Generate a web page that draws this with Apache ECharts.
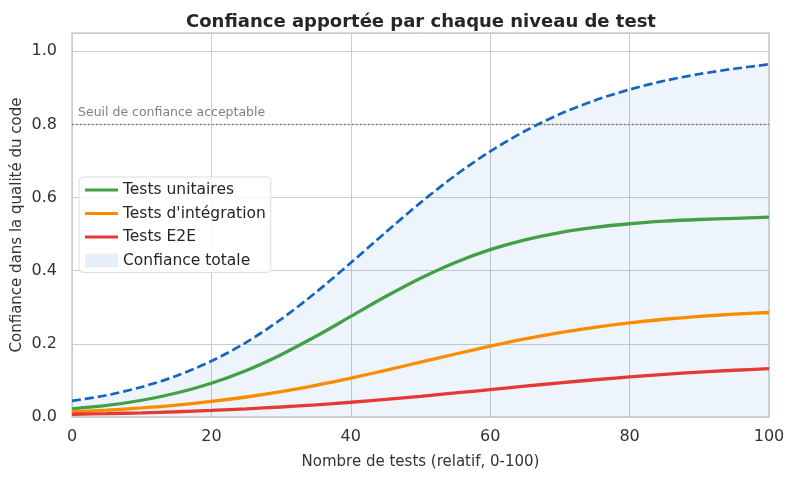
<!DOCTYPE html>
<html><head><meta charset="utf-8">
<script src="https://cdn.jsdelivr.net/npm/echarts@6/dist/echarts.min.js"></script>
<style>html,body{margin:0;padding:0;background:#fff}#c{width:794px;height:479px}</style>
</head><body><div id="c"></div>
<script>
const xs = [0,5,10,15,20,25,30,35,40,45,50,55,60,65,70,75,80,85,90,95,100];
const unitaires = [0.0225,0.0315,0.0458,0.0656,0.0924,0.1273,0.1705,0.2207,0.275,0.3293,0.3795,0.4227,0.4576,0.4844,0.5043,0.5185,0.5284,0.5354,0.5401,0.5433,0.5465];
const integration = [0.0142,0.0189,0.0250,0.0327,0.0426,0.0547,0.0694,0.0867,0.1063,0.1277,0.15,0.1723,0.1937,0.2133,0.2306,0.2453,0.2574,0.2673,0.2751,0.2811,0.2858];
const e2e = [0.0075,0.0092,0.0114,0.0143,0.0179,0.0222,0.0274,0.0334,0.0403,0.0481,0.0566,0.0657,0.075,0.0843,0.0934,0.1019,0.1097,0.1166,0.1226,0.1278,0.1321];
const totale = [0.0442,0.0596,0.0822,0.1126,0.1529,0.2042,0.2673,0.3408,0.4216,0.5051,0.5861,0.6607,0.7263,0.7820,0.8283,0.8657,0.8955,0.9193,0.9378,0.9522,0.9644];
const seuil = 0.8;
const xTicks = [0,20,40,60,80,100];
const yTicks = [0,0.2,0.4,0.6,0.8,1.0];

const pts = a => xs.map((x,i)=>[x,a[i]]);
const FONT = 'DejaVu Sans';
const LINE_ICON = 'path://M0,0H33V3H0Z';
const chart = echarts.init(document.getElementById('c'), null, {renderer:'canvas'});
chart.setOption({
  animation:false,
  backgroundColor:'#fff',
  textStyle:{fontFamily:FONT},
  title:{text:'Confiance apportée par chaque niveau de test', left:416, textAlign:'center', top:8,
    textStyle:{fontFamily:FONT, fontSize:18, fontWeight:'bold', color:'#262626'}},
  grid:{left:72, right:25, top:33, bottom:62, show:true, borderColor:'#cccccc', borderWidth:1.5,
    backgroundColor:'transparent', containLabel:false, outerBoundsMode:'none'},
  xAxis:{type:'value', min:0, max:100, interval:20,
    name:'Nombre de tests (relatif, 0-100)', nameLocation:'middle', nameGap:38,
    nameTextStyle:{fontSize:15, color:'#333', fontFamily:FONT},
    axisLine:{show:false}, axisTick:{show:false},
    axisLabel:{fontSize:16, color:'#333', margin:12, fontFamily:FONT, formatter:v=>xTicks.includes(v)?String(v):''},
    splitLine:{show:true, lineStyle:{color:'#cccccc', width:1}}},
  yAxis:{type:'value', min:0, max:1.05, interval:0.2,
    name:'Confiance dans la qualité du code', nameLocation:'middle', nameGap:47, nameMoveOverlap:false,
    nameTextStyle:{fontSize:15, color:'#333', fontFamily:FONT},
    axisLine:{show:false}, axisTick:{show:false},
    axisLabel:{fontSize:16, color:'#333', margin:15, fontFamily:FONT, showMaxLabel:false,
      formatter:v=>v.toFixed(1)},
    splitLine:{show:true, lineStyle:{color:'#cccccc', width:1}}},
  legend:{orient:'vertical', left:79, top:177, itemWidth:33, itemHeight:14, itemGap:7.5,
    backgroundColor:'rgba(255,255,255,0.85)', borderColor:'#dddddd', borderWidth:1, borderRadius:4,
    padding:[5,5,4,6],
    textStyle:{fontSize:15.5, color:'#262626', fontFamily:FONT},
    data:[
      {name:'Tests unitaires', icon:LINE_ICON, itemStyle:{color:'#43A047'}},
      {name:"Tests d'intégration", icon:LINE_ICON, itemStyle:{color:'#FB8C00'}},
      {name:'Tests E2E', icon:LINE_ICON, itemStyle:{color:'#E53935'}},
      {name:'Confiance totale', icon:'rect', itemStyle:{color:'rgba(21,101,192,0.1)', borderWidth:0}}]},
  series:[
    {name:'Confiance totale', type:'line', data:pts(totale), smooth:0.3, symbol:'none',
      lineStyle:{width:0, opacity:0}, areaStyle:{color:'rgba(21,101,192,0.1)', origin:'start'}, z:1,
      itemStyle:{color:'rgba(21,101,192,0.1)'},
      markLine:{silent:true, symbol:'none', data:[{yAxis:seuil}],
        lineStyle:{type:[1.5,2.5], color:'#777', width:1.4},
        label:{show:true, position:'insideStartTop', formatter:'Seuil de confiance acceptable',
          fontSize:12.5, color:'#808080', fontFamily:FONT, distance:[6,5]}}},
    {name:'total-line', type:'line', data:pts(totale), smooth:0.3, symbol:'none',
      lineStyle:{width:2.7, color:'#1565C0', type:[9,4]}, z:5},
    {name:'Tests unitaires', type:'line', data:pts(unitaires), smooth:0.3, symbol:'none',
      lineStyle:{width:3.3, color:'#43A047'}, itemStyle:{color:'#43A047'}, z:4},
    {name:"Tests d'intégration", type:'line', data:pts(integration), smooth:0.3, symbol:'none',
      lineStyle:{width:3.3, color:'#FB8C00'}, itemStyle:{color:'#FB8C00'}, z:4},
    {name:'Tests E2E', type:'line', data:pts(e2e), smooth:0.3, symbol:'none',
      lineStyle:{width:3.3, color:'#E53935'}, itemStyle:{color:'#E53935'}, z:4}
  ]
});
</script></body></html>
